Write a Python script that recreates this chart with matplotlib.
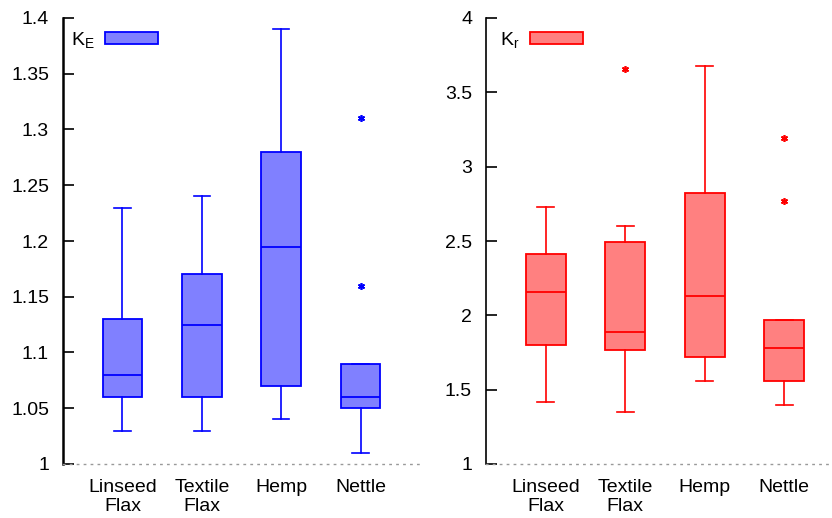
import matplotlib
matplotlib.use('Agg')
import matplotlib.pyplot as plt
from matplotlib.patches import Patch
from matplotlib.ticker import FuncFormatter, MultipleLocator

plt.rcParams['font.family'] = ['Liberation Sans', 'DejaVu Sans']
plt.rcParams['mathtext.fontset'] = 'custom'
plt.rcParams['mathtext.rm'] = 'Liberation Sans'

categories = ['Linseed\nFlax', 'Textile\nFlax', 'Hemp', 'Nettle']

ke_whislo = [1.03, 1.03, 1.04, 1.01]
ke_q1 = [1.06, 1.06, 1.07, 1.05]
ke_med = [1.08, 1.125, 1.195, 1.06]
ke_q3 = [1.13, 1.17, 1.28, 1.09]
ke_whishi = [1.23, 1.24, 1.39, 1.09]
ke_fliers = [[], [], [], [1.31, 1.16]]

kr_whislo = [1.42, 1.35, 1.56, 1.40]
kr_q1 = [1.80, 1.77, 1.72, 1.56]
kr_med = [2.16, 1.89, 2.13, 1.78]
kr_q3 = [2.41, 2.49, 2.82, 1.97]
kr_whishi = [2.73, 2.60, 3.68, 1.97]
kr_fliers = [[], [3.66], [], [3.19, 2.77]]

W, H = 832, 518
fig = plt.figure(figsize=(W / 100, H / 100), dpi=100)

def make_stats(lo, q1, med, q3, hi, fl):
    return [dict(whislo=a, q1=b, med=c, q3=d, whishi=e, fliers=f)
            for a, b, c, d, e, f in zip(lo, q1, med, q3, hi, fl)]

def panel(rect, stats, edge, face, ylim, step, label, xmax, spine_lw, legx):
    ax = fig.add_axes(rect)
    pos = range(1, len(categories) + 1)
    ax.bxp(stats, positions=list(pos), widths=0.5, capwidths=0.21,
           patch_artist=True, showfliers=True,
           boxprops=dict(facecolor=face, edgecolor=edge, linewidth=1.3),
           medianprops=dict(color=edge, linewidth=1.3),
           whiskerprops=dict(color=edge, linewidth=1.2),
           capprops=dict(color=edge, linewidth=1.2),
           flierprops=dict(marker=(6, 2, 0), markersize=5,
                           markeredgecolor=edge, markerfacecolor=edge,
                           markeredgewidth=1.2, linestyle='none'))
    ax.set_xlim(0.25, xmax)
    ax.set_ylim(*ylim)
    ax.set_xticks(list(pos))
    ax.set_xticklabels(categories, fontsize=14, linespacing=1.15)
    ax.tick_params(axis='x', length=0, pad=11)
    ax.yaxis.set_major_locator(MultipleLocator(step))
    ax.yaxis.set_major_formatter(FuncFormatter(lambda v, p: '%g' % round(v, 4)))
    ax.tick_params(axis='y', direction='in', length=8, width=1.2,
                   labelsize=14, pad=10)
    for s in ('top', 'right'):
        ax.spines[s].set_visible(False)
    ax.spines['left'].set_linewidth(spine_lw)
    ax.spines['bottom'].set_linestyle((0, (1, 4)))
    ax.spines['bottom'].set_color('#999999')
    ax.spines['bottom'].set_linewidth(1.0)
    ax.set_facecolor('none')
    h = Patch(facecolor=face, edgecolor=edge, linewidth=1.3)
    ax.legend([h], [label], loc='upper left', frameon=False, fontsize=14,
              markerfirst=False, handlelength=2.7, handleheight=0.55,
              handletextpad=0.55, borderaxespad=0.2,
              bbox_to_anchor=(legx, 1.0))
    return ax

top = 1 - 18 / H
bot = 1 - 464 / H
panel([63 / W, bot, 357 / W, top - bot],
      make_stats(ke_whislo, ke_q1, ke_med, ke_q3, ke_whishi, ke_fliers),
      '#0000ff', '#8080ff', (1.0, 1.4), 0.05, r'$\mathregular{K_E}$', 4.75, 1.8,
      -0.01)
panel([486 / W, bot, 346 / W, top - bot],
      make_stats(kr_whislo, kr_q1, kr_med, kr_q3, kr_whishi, kr_fliers),
      '#ff0000', '#ff8080', (1.0, 4.0), 0.5, r'$\mathregular{K_r}$', 4.6, 1.2,
      0.007)

fig.savefig('out.png', dpi=100)
